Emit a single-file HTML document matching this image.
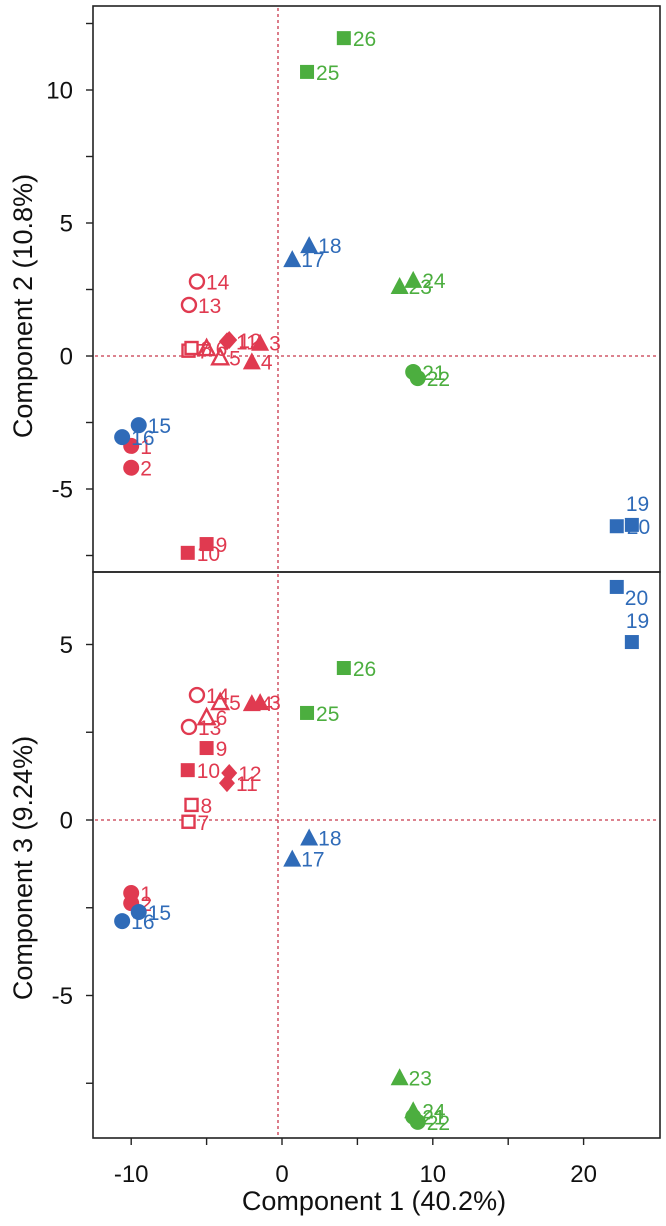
<!DOCTYPE html>
<html><head><meta charset="utf-8"><style>
html,body{margin:0;padding:0;background:#fff;}
svg{display:block;font-family:"Liberation Sans",Arial,sans-serif;}
</style></head><body>
<svg id="chart" width="666" height="1226" viewBox="0 0 666 1226"></svg>
<script>
const ids = [1,2,3,4,5,6,7,8,9,10,11,12,13,14,15,16,17,18,19,20,21,22,23,24,25,26];
const pc1 = [-10.0,-10.0,-1.45,-2.0,-4.1,-5.0,-6.2,-6.0,-5.0,-6.25,-3.65,-3.5,-6.17,-5.64,-9.5,-10.6,0.68,1.8,23.2,22.2,8.7,9.0,7.8,8.7,1.66,4.1];
const pc2 = [-3.38,-4.2,0.5,-0.2,-0.05,0.3,0.2,0.3,-7.07,-7.4,0.55,0.6,1.92,2.8,-2.6,-3.05,3.64,4.17,-6.35,-6.4,-0.6,-0.83,2.63,2.86,10.68,11.95];
const pc3 = [-2.08,-2.37,3.36,3.33,3.36,2.93,-0.05,0.43,2.05,1.42,1.05,1.34,2.65,3.56,-2.62,-2.88,-1.1,-0.5,5.07,6.64,-8.45,-8.6,-7.33,-8.27,3.05,4.33];
const shapes = ["circle","circle","tri","tri","otri","otri","osq","osq","sq","sq","dia","dia","ocirc","ocirc","circle","circle","tri","tri","sq","sq","circle","circle","tri","tri","sq","sq"];
const groups = ["r","r","r","r","r","r","r","r","r","r","r","r","r","r","b","b","b","b","b","b","g","g","g","g","g","g"];
const xTicks = [-10,-5,0,5,10,15,20];
const xTickLabels = ["-10","","0","","10","","20"];
const y2Ticks = [12.5,10,7.5,5,2.5,0,-2.5,-5,-7.5];
const y2TickLabels = ["","10","","5","","0","","-5",""];
const y3Ticks = [5,2.5,0,-2.5,-5,-7.5];
const y3TickLabels = ["5","","0","","-5",""];

const colors = {r:"#e03a50",b:"#2f6bb8",g:"#4cae3f"};
// label offset overrides (styling only)
const labelOff = {"top-19":[-6,-14],"top-20":[10,8],"bottom-20":[8,18],"bottom-19":[-6,-14]};
const NS = "http://www.w3.org/2000/svg";
const svg = document.getElementById("chart");
const L=93,R=660,T=6,MID=572,B=1138;
function X(v){return 282+15.08*v;}
function Y2(v){return 356-26.6*v;}
function Y3(v){return 820-35.1*v;}
function mk(tag,attrs,parent){const e=document.createElementNS(NS,tag);for(const k in attrs)e.setAttribute(k,attrs[k]);(parent||svg).appendChild(e);return e;}

const f1=mk("rect",{x:L,y:T,width:R-L,height:MID-T,fill:"none",stroke:"#222","stroke-width":1.6});


const f2=mk("rect",{x:L,y:MID,width:R-L,height:B-MID,fill:"none",stroke:"#222","stroke-width":1.6});



function dash(x1,y1,x2,y2,name){const l=mk("line",{x1,y1,x2,y2,stroke:"#c8374a","stroke-width":1.3,"stroke-dasharray":"3,3"});}
dash(278,T+2,278,MID-2,"top-zero-vline");
dash(L+2,Y2(0),R-2,Y2(0),"top-zero-hline");
dash(278,MID+2,278,B-2,"bottom-zero-vline");
dash(L+2,Y3(0),R-2,Y3(0),"bottom-zero-hline");

function yAxis(ticks,labels,fy,name){
  ticks.forEach((t,i)=>{
    const y=fy(t);
    const tk=mk("line",{x1:L-7,y1:y,x2:L,y2:y,stroke:"#222","stroke-width":1.4});
    
    
    if(labels[i]){
      const tx=mk("text",{x:L-20,y:y+8.5,"text-anchor":"end","font-size":24,fill:"#111"});
      tx.textContent=labels[i];
      
      
    }
  });
}
yAxis(y2Ticks,y2TickLabels,Y2,"y2-axis");
yAxis(y3Ticks,y3TickLabels,Y3,"y3-axis");
xTicks.forEach((t,i)=>{
  const x=X(t);
  const tk=mk("line",{x1:x,y1:B,x2:x,y2:B+7,stroke:"#222","stroke-width":1.4});
  
  
  if(xTickLabels[i]){
    const tx=mk("text",{x:x,y:B+44,"text-anchor":"middle","font-size":24,fill:"#111"});
    tx.textContent=xTickLabels[i];
    
    
  }
});
const xt=mk("text",{x:374,y:1210,"text-anchor":"middle","font-size":27,fill:"#111"});
xt.textContent="Component 1 (40.2%)";


const y2t=mk("text",{x:0,y:0,"text-anchor":"middle","font-size":27,fill:"#111",transform:"translate(32,306) rotate(-90)"});
y2t.textContent="Component 2 (10.8%)";


const y3t=mk("text",{x:0,y:0,"text-anchor":"middle","font-size":27,fill:"#111",transform:"translate(32,868) rotate(-90)"});
y3t.textContent="Component 3 (9.24%)";



function marker(shape,cx,cy,c){
  let e;
  const open=shape.startsWith("o");
  const fill=open?"#fff":c, st=open?c:"none", sw=open?2.4:0;
  if(shape==="circle"||shape==="ocirc"){e=mk("circle",{cx,cy,r:open?7:8,fill,stroke:st,"stroke-width":sw});}
  else if(shape==="sq"||shape==="osq"){const s=open?12:14;e=mk("rect",{x:cx-s/2,y:cy-s/2,width:s,height:s,fill,stroke:st,"stroke-width":sw});}
  else if(shape==="tri"||shape==="otri"){const h=open?7:8;e=mk("polygon",{points:`${cx},${cy-h-1} ${cx+h+1},${cy+h} ${cx-h-1},${cy+h}`,fill,stroke:st,"stroke-width":sw});}
  else {e=mk("polygon",{points:`${cx},${cy-9} ${cx+8},${cy} ${cx},${cy+9} ${cx-8},${cy}`,fill});}
  return e;
}
function plot(vals,fy,panel){
  ids.forEach((id,i)=>{
    const cx=X(pc1[i]),cy=fy(vals[i]),c=colors[groups[i]];
    const m=marker(shapes[i],cx,cy,c);
    
    
    const off=labelOff[panel+'-'+id]||[9,8];
    const t=mk("text",{x:cx+off[0],y:cy+off[1],"font-size":21,fill:c});
    t.textContent=String(id);
    
    
  });
}
plot(pc2,Y2,"top");
plot(pc3,Y3,"bottom");
</script>
</body></html>
